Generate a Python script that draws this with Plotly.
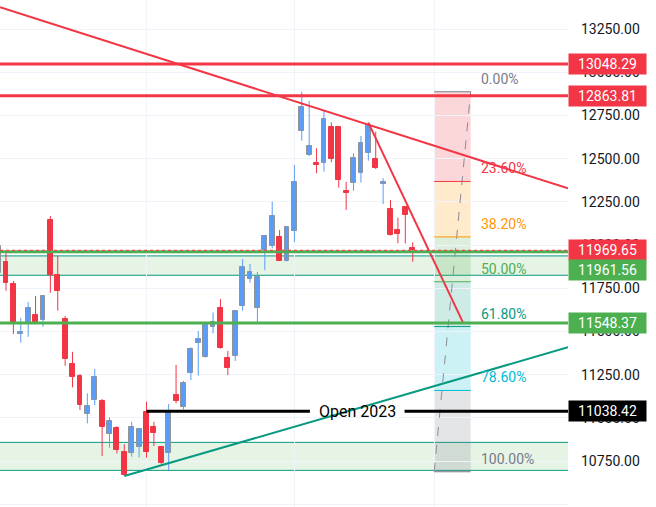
import plotly.graph_objects as go

# ---------------- data ----------------
OPEN = [11840, 11903, 11774, 11488, 11541, 11595, 11566, 12145, 11826, 11572,
        11311, 11243, 11020, 11103, 11099, 10904, 10939, 10800, 10794, 10829,
        11034, 10945, 10829, 10798, 11132, 11064, 11257, 11435, 11354, 11527,
        11634, 11344, 11359, 11649, 11801, 11634, 11971, 11996, 12045, 11909,
        12083, 12660, 12519, 12470, 12473, 12681, 12681, 12308, 12357, 12415,
        12531, 12496, 12355, 12208, 12087, 12222, 11984]
HIGH = [12005, 11961, 11792, 11579, 11670, 11705, 11710, 12168, 11938, 11589,
        11382, 11253, 11142, 11282, 11109, 11003, 10952, 10847, 10977, 10941,
        11093, 10977, 10837, 11080, 11306, 11213, 11408, 11502, 11547, 11610,
        11687, 11387, 11624, 11919, 11890, 11845, 12058, 12251, 12087, 12110,
        12463, 12887, 12833, 12560, 12777, 12710, 12681, 12366, 12531, 12631,
        12708, 12656, 12386, 12260, 12158, 12226, 12016]
LOW = [11790, 11735, 11485, 11435, 11469, 11547, 11527, 11724, 11620, 11301,
       11176, 11045, 10968, 11074, 10779, 10827, 10794, 10665, 10775, 10771,
       10769, 10837, 10731, 10698, 11084, 11049, 11219, 11244, 11348, 11489,
       11400, 11248, 11329, 11620, 11782, 11550, 11855, 11981, 11909, 11905,
       12016, 12604, 12515, 12415, 12424, 12479, 12332, 12203, 12314, 12361,
       12488, 12440, 12237, 12055, 12010, 12010, 11903]
CLOSE = [11994, 11782, 11543, 11496, 11634, 11553, 11705, 11826, 11736, 11340,
         11238, 11076, 11068, 11234, 10948, 10981, 10814, 10669, 10945, 10935,
         10804, 10910, 10737, 11039, 11097, 11203, 11398, 11454, 11541, 11553,
         11406, 11290, 11618, 11871, 11842, 11813, 12052, 12168, 11909, 12102,
         12363, 12800, 12573, 12464, 12727, 12496, 12376, 12302, 12502, 12589,
         12694, 12444, 12360, 12058, 12064, 12174, 11969.65]
BAR_INDEX = list(range(len(OPEN)))

RESISTANCE_LEVELS = [13048.29, 12863.81]
SUPPORT_LEVEL = 11548.37
GREEN_LEVEL = 11961.56
LAST_PRICE = 11969.65
OPEN_2023 = 11038.42
OPEN_2023_BAR = 20
OPEN_2023_TEXT = "Open 2023"

ZONES = [(11825, 11937), (10696, 10858)]

DOWN_TREND_X = [0.19, 77.0]
DOWN_TREND_Y = [13376, 12328]
STEEP_TREND_X = [50, 62.84]
STEEP_TREND_Y = [12708, 11548.37]
UP_TREND_X = [17, 77.0]
UP_TREND_Y = [10663, 11408]

FIB_HIGH = 12887
FIB_LOW = 10688
FIB_X = [58.9, 63.84]
FIB_RATIOS = [0.0, 0.236, 0.382, 0.5, 0.618, 0.786, 1.0]
FIB_LABELS = ["0.00%", "23.60%", "38.20%", "50.00%", "61.80%", "78.60%", "100.00%"]

MONTH_STARTS = [20, 40, 59]
Y_TICKS = [10500, 10750, 11000, 11250, 11500, 11750, 12000, 12250, 12500,
           12750, 13000, 13250]

PRICE_LABELS = [13048.29, 12863.81, 11969.65, 11961.56, 11548.37, 11038.42]

# ---------------- styles ----------------
RED = "#F23645"
GREEN = "#4CAF50"
TEAL = "#089981"
BLUE = "#5B9CF6"
GRAY_BORDER = "#8F9499"
GRID = "#F0F3FA"
FONT = "Roboto"
FIB_LINE_COLORS = ["#787B86", RED, "#FF9800", GREEN, TEAL, "#00BCD4", "#787B86"]
FIB_FILLS = ["rgba(242,54,69,0.2)", "rgba(255,152,0,0.2)", "rgba(76,175,80,0.2)",
             "rgba(8,153,129,0.2)", "rgba(0,188,212,0.2)", "rgba(120,123,134,0.2)"]
LABEL_BG = [RED, RED, RED, GREEN, GREEN, "#000000"]
LABEL_SHIFT = [0, 0, 0, -18, 0, 0]

X_RANGE = [0.19, 77.0]
Y_RANGE = [10484, 13418]

fig = go.Figure()

# zones + fib fills (below)
shapes = []
for lo, hi in ZONES:
    shapes.append(dict(type="rect", xref="x", x0=X_RANGE[0] - 5, x1=X_RANGE[1] + 5,
                       yref="y", y0=lo, y1=hi,
                       fillcolor="rgba(76,175,80,0.14)", line=dict(color=TEAL, width=1),
                       layer="below"))

fib_prices = [FIB_HIGH - r * (FIB_HIGH - FIB_LOW) for r in FIB_RATIOS]
for i in range(len(fib_prices) - 1):
    shapes.append(dict(type="rect", xref="x", x0=FIB_X[0], x1=FIB_X[1], yref="y",
                       y0=fib_prices[i + 1], y1=fib_prices[i], fillcolor=FIB_FILLS[i],
                       line=dict(width=0), layer="below"))
for p, c in zip(fib_prices, FIB_LINE_COLORS):
    shapes.append(dict(type="line", xref="x", x0=FIB_X[0], x1=FIB_X[1], yref="y",
                       y0=p, y1=p, line=dict(color=c, width=1)))

# horizontal levels
for p in RESISTANCE_LEVELS:
    shapes.append(dict(type="line", xref="paper", x0=0, x1=1, yref="y", y0=p, y1=p,
                       line=dict(color=RED, width=3)))
shapes.append(dict(type="line", xref="paper", x0=0, x1=1, yref="y", y0=SUPPORT_LEVEL,
                   y1=SUPPORT_LEVEL, line=dict(color=GREEN, width=3)))
shapes.append(dict(type="line", xref="paper", x0=0, x1=1, yref="y", y0=GREEN_LEVEL,
                   y1=GREEN_LEVEL, line=dict(color=GREEN, width=3)))
shapes.append(dict(type="line", xref="paper", x0=0, x1=1, yref="y", y0=LAST_PRICE,
                   y1=LAST_PRICE, line=dict(color=RED, width=1, dash="dot")))

# candle wicks
up = [c >= o for o, c in zip(OPEN, CLOSE)]
for is_up, col in ((True, BLUE), (False, RED)):
    xs, ys = [], []
    for k, h, l, u in zip(BAR_INDEX, HIGH, LOW, up):
        if u == is_up:
            xs += [k, k, None]
            ys += [l, h, None]
    fig.add_trace(go.Scatter(x=xs, y=ys, mode="lines", line=dict(color=col, width=1),
                             hoverinfo="skip", showlegend=False))

# candle bodies
bases = [min(o, c) for o, c in zip(OPEN, CLOSE)]
heights = [max(abs(c - o), 8) for o, c in zip(OPEN, CLOSE)]
fig.add_trace(go.Bar(x=BAR_INDEX, y=heights, base=bases, width=0.66,
                     marker=dict(color=[BLUE if u else RED for u in up],
                                 line=dict(color=[GRAY_BORDER if u else RED for u in up],
                                           width=1)),
                     hoverinfo="skip", showlegend=False))

# trend lines
fig.add_trace(go.Scatter(x=DOWN_TREND_X, y=DOWN_TREND_Y, mode="lines",
                         line=dict(color=RED, width=2), hoverinfo="skip", showlegend=False))
fig.add_trace(go.Scatter(x=STEEP_TREND_X, y=STEEP_TREND_Y, mode="lines",
                         line=dict(color=RED, width=2), hoverinfo="skip", showlegend=False))
fig.add_trace(go.Scatter(x=UP_TREND_X, y=UP_TREND_Y, mode="lines",
                         line=dict(color=TEAL, width=2), hoverinfo="skip", showlegend=False))
# fib diagonal
fig.add_trace(go.Scatter(x=FIB_X, y=[FIB_LOW, FIB_HIGH], mode="lines",
                         line=dict(color="#8A8D96", width=1, dash="dash"),
                         hoverinfo="skip", showlegend=False))

# Open 2023 line, broken around its label
mid = (OPEN_2023_BAR + X_RANGE[1]) / 2
gap = 6.4
fig.add_trace(go.Scatter(x=[OPEN_2023_BAR, mid - gap, None, mid + gap, X_RANGE[1] + 1],
                         y=[OPEN_2023, OPEN_2023, None, OPEN_2023, OPEN_2023],
                         mode="lines", line=dict(color="#000000", width=3),
                         hoverinfo="skip", showlegend=False))

annotations = []
annotations.append(dict(x=mid, y=OPEN_2023, xref="x", yref="y", text=OPEN_2023_TEXT,
                        showarrow=False, font=dict(family=FONT, size=16, color="#000000")))
for p, lab, c in zip(fib_prices, FIB_LABELS, FIB_LINE_COLORS):
    annotations.append(dict(x=64.95, y=p, xref="x", yref="y", text=lab, showarrow=False,
                            xanchor="left", yanchor="middle", yshift=13,
                            font=dict(family=FONT, size=14, color=c)))
for p, bg, sh in zip(PRICE_LABELS, LABEL_BG, LABEL_SHIFT):
    annotations.append(dict(x=1, y=p, xref="paper", yref="y", text=f"{p:.2f}",
                            showarrow=False, xanchor="left", yanchor="middle", yshift=sh,
                            bgcolor=bg, width=75, height=18, borderpad=1, align="center",
                            font=dict(family=FONT, size=14, color="#FFFFFF")))

fig.update_layout(
    width=656, height=507,
    margin=dict(l=0, r=88, t=0, b=0),
    paper_bgcolor="white", plot_bgcolor="white",
    showlegend=False, hovermode=False,
    shapes=shapes, annotations=annotations,
    bargap=0,
    xaxis=dict(range=X_RANGE, showticklabels=False, tickvals=MONTH_STARTS,
               showgrid=True, gridcolor=GRID, gridwidth=1, zeroline=False, showline=False,
               ticks=""),
    yaxis=dict(range=Y_RANGE, side="right", tickvals=Y_TICKS,
               ticktext=[f"{v:.2f}" for v in Y_TICKS],
               showgrid=True, gridcolor=GRID, gridwidth=1, zeroline=False, showline=False,
               ticks="", ticklabelstandoff=12,
               tickfont=dict(family=FONT, size=14, color="#131722")),
)

fig.write_html("out.html", config={"displayModeBar": False},
               post_script="document.body.style.margin='0';")
